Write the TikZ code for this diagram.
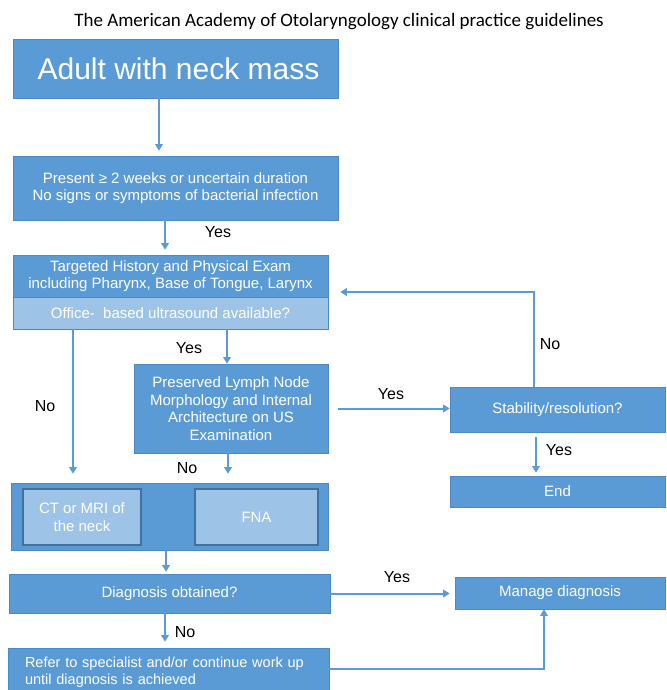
\documentclass[tikz,border=0pt]{standalone}
\usepackage{fontspec}
\setmainfont{Liberation Sans}
\newfontfamily\titlefont{Carlito}
\usetikzlibrary{arrows.meta,positioning}
\definecolor{boxblue}{HTML}{5B9BD5}
\definecolor{lightblue}{HTML}{9DC3E6}
\definecolor{edgeblue}{HTML}{4A8AC9}
\definecolor{innerrim}{HTML}{41719C}
\tikzset{
  box/.style={fill=boxblue, draw=edgeblue, line width=0.6pt, text=white,
    inner sep=0pt, align=center, font=\fontsize{15}{17.5}\selectfont},
  lightbox/.style={box, fill=lightblue},
  innerbox/.style={box, fill=lightblue, draw=innerrim, line width=1.2pt},
  arr/.style={draw=boxblue, line width=2pt, -{Triangle[width=7.5pt,length=6.5pt]}},
  lbl/.style={font=\fontsize{16}{18}\selectfont, text=black},
}
\begin{document}
\begin{tikzpicture}[x=1pt,y=-1pt]
	\fill[white] (0,0) rectangle (666,690);
	\useasboundingbox (0,0) rectangle (666,690);
	\node[font=\titlefont\fontsize{19}{22}\selectfont] (title) at (339,22)
		{The American Academy of Otolaryngology clinical practice guidelines};
	% left column
	\node[box, minimum width=325pt, minimum height=59pt, font=\fontsize{30}{32}\selectfont]
		(adult) at (175.5,68.5) {\hspace*{6pt}Adult with neck mass};
	\node[box, minimum width=325pt, minimum height=64pt] (present) at (175.5,188)
		{Present ≥ 2 weeks or uncertain duration\\No signs or symptoms of bacterial infection};
	\node[box, minimum width=315pt, minimum height=42pt] (hist) at (170.5,276)
		{Targeted History and Physical Exam\\including Pharynx, Base of Tongue, Larynx};
	\node[lightbox, minimum width=315pt, minimum height=32pt] (office) at (170.5,313)
		{Office-~ based ultrasound available?};
	\node[box, minimum width=194pt, minimum height=89pt] (preserved) at (231,408.5)
		{Preserved Lymph Node\\Morphology and Internal\\Architecture on US\\Examination};
	\node[box, minimum width=317pt, minimum height=67pt] (tests) at (169.5,516.5) {};
	\node[innerbox, minimum width=118pt, minimum height=56pt] (ct) at (82,517)
		{CT or MRI of\\the neck};
	\node[innerbox, minimum width=123pt, minimum height=56pt] (fna) at (256.5,517) {FNA};
	\node[box, minimum width=321pt, minimum height=39pt] (diag) at (169.5,593.5)
		{Diagnosis obtained?};
	\node[box, minimum width=321pt, minimum height=48pt, align=left, text width=287pt,
		font=\fontsize{14.5}{17}\selectfont] (refer) at (168.5,672)
		{Refer to specialist and/or continue work up\\until diagnosis is achieved};
	% right column
	\node[box, minimum width=215pt, minimum height=45pt] (stab) at (557.5,409.5)
		{Stability/resolution?};
	\node[box, minimum width=215pt, minimum height=31pt] (endb) at (557.5,491.5) {End};
	\node[box, minimum width=210pt, minimum height=32pt] (manage) at (560,593)
		{Manage diagnosis};
	% connectors
	\coordinate (a1) at ([xshift=-16.5pt]adult.south);
	\draw[arr, shorten >=5pt] (a1) -- (a1 |- present.north);
	\coordinate (a2) at ([xshift=-10.5pt]present.south);
	\draw[arr, shorten >=5pt] (a2) -- (a2 |- hist.north);
	\coordinate (a3) at ([xshift=-97.5pt]office.south);
	\draw[arr, shorten >=9pt] (a3) -- (a3 |- tests.north);
	\coordinate (a4) at ([xshift=56.5pt]office.south);
	\draw[arr] (a4) -- (a4 |- preserved.north);
	\coordinate (a5) at ([xshift=-3pt]preserved.south);
	\draw[arr, shorten >=9pt] (a5) -- (a5 |- tests.north);
	\draw[arr, shorten <=10pt] (preserved.east) -- (preserved.east -| stab.west);
	\coordinate (a6) at ([xshift=-23.5pt]stab.north);
	\draw[arr, shorten >=12pt] (a6) |- ([yshift=-16pt]hist.east);
	\coordinate (a7) at ([xshift=-21.5pt]stab.south);
	\draw[arr, shorten <=5pt, shorten >=3pt] (a7) -- (a7 |- endb.north);
	\coordinate (a8) at ([xshift=-3.5pt]tests.south);
	\draw[arr, shorten >=2pt] (a8) -- (a8 |- diag.north);
	\draw[arr, shorten >=5pt] (diag.east) -- (diag.east -| manage.west);
	\coordinate (a9) at ([xshift=-4.5pt]diag.south);
	\draw[arr, shorten >=6pt] (a9) -- (a9 |- refer.north);
	\draw[arr] ([yshift=3pt]refer.east) -| ([xshift=-16pt]manage.south);
	% labels
	\node[lbl] (yes1) at (218,232) {Yes};
	\node[lbl] (yes2) at (189,348) {Yes};
	\node[lbl] (no1) at (45,406) {No};
	\node[lbl] (yes3) at (391,394) {Yes};
	\node[lbl] (no2) at (550,344) {No};
	\node[lbl] (no3) at (187,468) {No};
	\node[lbl] (yes4) at (559,450) {Yes};
	\node[lbl] (yes5) at (397,577) {Yes};
	\node[lbl] (no4) at (185,632) {No};
\end{tikzpicture}
\end{document}
